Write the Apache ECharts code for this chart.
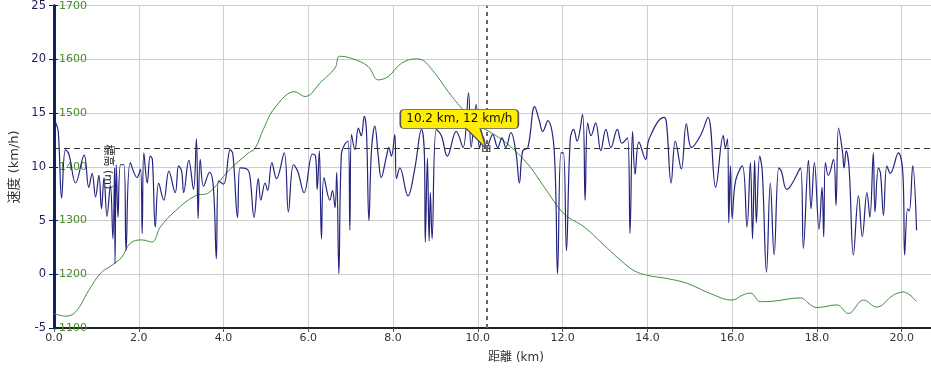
<!DOCTYPE html>
<html>
<head>
<meta charset="utf-8">
<script src="https://cdn.jsdelivr.net/npm/echarts@6/dist/echarts.min.js"></script>
<style>
html,body{margin:0;padding:0;background:#fff;overflow:hidden;width:931px;height:372px;}
#c{width:978px;height:372px;}
</style>
</head>
<body>
<div id="c"></div>
<script>
// ---- data ----
const speedKm = [0.04,0.10,0.18,0.27,0.35,0.51,0.71,0.82,0.90,0.98,
1.06,1.12,1.18,1.25,1.33,1.39,1.43,1.44,1.47,1.51,
1.57,1.65,1.70,1.80,1.96,2.04,2.08,2.12,2.20,2.27,
2.32,2.39,2.47,2.59,2.71,2.86,2.94,3.01,3.06,3.18,
3.29,3.36,3.40,3.45,3.53,3.67,3.76,3.83,3.88,4.00,
4.16,4.22,4.33,4.39,4.55,4.62,4.72,4.82,4.88,4.98,
5.04,5.14,5.25,5.43,5.53,5.65,5.75,5.90,6.10,6.17,
6.21,6.26,6.31,6.37,6.51,6.57,6.63,6.67,6.72,6.78,
6.86,6.94,6.98,7.02,7.10,7.18,7.25,7.32,7.37,7.43,
7.49,7.57,7.65,7.72,7.84,7.90,7.96,8.04,8.08,8.16,
8.35,8.51,8.67,8.74,8.76,8.81,8.85,8.88,8.92,9.02,
9.14,9.28,9.49,9.65,9.78,9.84,9.96,10.04,10.12,10.20,
10.35,10.47,10.57,10.66,10.78,10.90,10.98,11.06,11.18,11.34,
11.45,11.53,11.65,11.80,11.88,11.96,12.02,12.09,12.18,12.26,
12.34,12.47,12.53,12.59,12.67,12.78,12.90,13.02,13.14,13.29,
13.40,13.53,13.59,13.65,13.71,13.80,13.96,14.04,14.39,14.45,
14.56,14.66,14.80,14.92,15.04,15.25,15.43,15.61,15.79,15.84,
15.89,15.92,15.96,16.00,16.08,16.24,16.35,16.43,16.48,16.53,
16.57,16.65,16.71,16.81,16.90,16.99,17.10,17.16,17.29,17.61,
17.68,17.80,17.86,17.94,18.05,18.12,18.16,18.20,18.27,18.39,
18.45,18.51,18.60,18.64,18.69,18.76,18.86,18.98,19.07,19.18,
19.25,19.33,19.37,19.45,19.50,19.57,19.65,19.73,19.92,20.03,
20.07,20.14,20.18,20.26,20.35];
const speedKmh = [14.1,13.3,7.1,11.6,11.2,8.5,11.1,8.1,9.4,7.2,
9.2,6.1,9.0,5.4,8.3,3.3,9.9,1.0,10.2,5.3,
10.2,10.2,2.2,10.4,9.0,9.8,3.8,11.3,8.5,11.0,
10.7,4.4,8.5,6.9,9.6,7.6,10.1,9.6,7.6,10.6,
7.9,12.6,5.2,10.7,8.2,9.5,8.1,1.45,8.7,8.4,
11.6,11.2,5.3,9.9,9.8,9.2,5.3,8.9,6.9,8.5,
7.8,10.4,8.9,11.3,5.8,10.2,9.6,7.6,11.2,11.0,
7.9,11.5,3.3,9.0,6.9,7.8,6.2,9.5,0.06,11.2,
12.1,12.4,4.1,13.0,11.6,13.6,12.9,14.7,13.5,5.0,
11.5,13.8,11.0,9.0,10.9,11.8,11.0,13.0,8.9,9.9,
7.3,9.8,13.5,11.0,3.0,10.8,3.1,7.6,3.3,13.5,
12.9,11.0,13.3,11.8,16.9,11.8,15.8,11.8,12.8,11.7,
13.0,11.8,12.7,11.8,13.2,11.3,8.5,11.5,11.8,15.6,
14.3,13.3,14.3,11.6,0.06,11.3,11.3,2.2,12.6,13.5,
12.4,14.9,6.9,14.1,12.9,14.1,11.5,13.5,11.8,13.5,
12.2,12.7,3.8,13.3,9.3,12.3,10.7,12.6,14.6,14.1,
8.5,12.4,9.8,14.0,11.8,12.9,14.6,8.1,12.9,11.8,
12.6,4.8,10.1,5.2,8.7,10.1,4.4,10.4,3.3,10.6,
4.8,11.0,9.6,0.2,8.5,1.8,9.9,9.6,7.9,9.9,
2.4,10.6,6.1,10.4,4.2,8.1,3.5,10.4,9.2,10.7,
6.4,13.6,11.5,9.9,11.5,9.8,1.8,7.3,3.5,7.6,
5.3,11.3,5.8,9.9,9.4,5.5,10.1,9.4,11.3,9.2,
1.8,6.1,5.9,10.1,4.1];

const elevKm = [0.0,0.27,0.51,0.82,1.1,1.37,1.6,1.8,2.08,2.31,2.51,2.86,3.33,3.65,4.12,4.59,4.74,4.94,5.21,5.68,5.92,6.31,6.63,6.74,7.02,7.41,7.65,7.88,8.2,8.55,8.66,8.98,9.29,9.61,10.0,10.39,10.71,11.18,11.57,12.04,12.51,13.06,13.37,13.68,14.0,14.47,14.94,15.49,16.0,16.24,16.43,16.67,16.98,17.61,17.85,18.0,18.47,18.74,19.1,19.41,19.8,20.04,20.35];
const elevM = [1127,1122,1130,1170,1202,1217,1232,1258,1264,1260,1288,1318,1346,1352,1393,1426,1434,1470,1510,1540,1531,1559,1584,1606,1602,1587,1562,1568,1593,1601,1600,1575,1541,1510,1479,1460,1442,1405,1362,1312,1288,1248,1226,1207,1198,1192,1183,1164,1152,1161,1165,1149,1150,1156,1143,1138,1143,1127,1152,1139,1161,1167,1149];

const avgSpeed = 11.7;           // dashed horizontal reference
const cursorKm = 10.2;           // cursor position
const cursorSpeed = 11.7;        // speed value at cursor

const xTicks = {min: 0, max: 21.8, interval: 2};
const speedTicks = {min: -5, max: 25, interval: 5};
const elevTicks = {min: 1100, max: 1700, interval: 100};

// ---- chart ----
const FONT = '"DejaVu Sans","Noto Sans CJK JP",sans-serif';
const chart = echarts.init(document.getElementById('c'), null, {renderer: 'canvas'});

const speedData = speedKm.map((k, i) => [k, speedKmh[i]]);
const elevData = elevKm.map((k, i) => [k, elevM[i]]);

const calloutPath = 'path://M4,0 L114,0 Q118,0 118,4 L118,15 Q118,19 114,19 L80,19 L86,39 L66,19 L4,19 Q0,19 0,15 L0,4 Q0,0 4,0 Z';

chart.setOption({
  animation: false,
  backgroundColor: '#ffffff',
  grid: {left: 52, right: 0, top: 4, bottom: 44, containLabel: false},
  xAxis: {
    type: 'value', min: xTicks.min, max: xTicks.max, interval: xTicks.interval,
    name: '距離 (km)', nameLocation: 'middle', nameGap: 24, nameMoveOverlap: false,
    nameTextStyle: {fontFamily: FONT, fontSize: 12, color: '#333'},
    axisLine: {show: true, onZero: false, lineStyle: {color: '#222', width: 2}},
    axisTick: {show: true, length: 4, lineStyle: {color: '#555'}},
    axisLabel: {fontFamily: FONT, fontSize: 11, color: '#333', margin: 5,
      showMaxLabel: false, formatter: v => v.toFixed(1)},
    splitLine: {show: true, lineStyle: {color: '#cfcfcf', width: 1}}
  },
  yAxis: [{
    type: 'value', position: 'left', min: speedTicks.min, max: speedTicks.max, interval: speedTicks.interval,
    name: '速度 (km/h)', nameLocation: 'middle', nameGap: 33, nameRotate: 90, nameMoveOverlap: false,
    nameTextStyle: {fontFamily: FONT, fontSize: 13, color: '#333'},
    axisLine: {show: true, onZero: false, lineStyle: {color: '#0d2260', width: 3}},
    axisTick: {show: true, length: 5, lineStyle: {color: '#0d2260'}},
    axisLabel: {fontFamily: FONT, fontSize: 11.5, color: '#1c1c5c', margin: 8},
    splitLine: {show: true, lineStyle: {color: '#cfcfcf', width: 1}}
  }, {
    type: 'value', position: 'left', min: elevTicks.min, max: elevTicks.max, interval: elevTicks.interval,
    name: '標高 (m)', nameLocation: 'middle', nameGap: -59, nameRotate: -90, nameMoveOverlap: false,
    nameTextStyle: {fontFamily: FONT, fontSize: 11, color: '#222'},
    axisLine: {show: false},
    axisTick: {show: true, inside: true, length: 4, lineStyle: {color: '#0d2260'}},
    axisLabel: {inside: true, fontFamily: FONT, fontSize: 11, color: '#4a8a2a', margin: 5,
      formatter: v => String(v)},
    splitLine: {show: false}
  }],
  series: [{
    name: '標高', type: 'line', yAxisIndex: 1, data: elevData,
    showSymbol: false, smooth: 0.4,
    lineStyle: {color: '#3f8f3f', width: 1}, z: 2
  }, {
    name: '速度', type: 'line', yAxisIndex: 0, data: speedData,
    showSymbol: false, smooth: 0.4,
    lineStyle: {color: '#24247f', width: 1.2}, z: 3,
    markLine: {
      silent: true, symbol: ['none', 'none'], label: {show: false},
      data: [
        {yAxis: avgSpeed, lineStyle: {color: '#333', width: 1.2, type: [6, 4]}},
        {xAxis: cursorKm, lineStyle: {color: '#666', width: 2, type: [4, 4]}}
      ]
    },
    markPoint: {
      silent: true,
      data: [
        {coord: [cursorKm, cursorSpeed], symbol: 'rect', symbolSize: [7, 6],
          itemStyle: {color: 'rgba(255,255,255,0)', borderColor: '#333', borderWidth: 1},
          label: {show: false}},
        {coord: [cursorKm, cursorSpeed], symbol: calloutPath, symbolSize: [118, 39],
          symbolOffset: [-27, -19.5],
          itemStyle: {color: '#ffee00', borderColor: '#555', borderWidth: 1},
          label: {show: true, position: 'inside', offset: [0, -10],
            fontFamily: FONT, fontSize: 12, color: '#111',
            formatter: () => cursorKm.toFixed(1) + ' km, ' + Math.round(cursorSpeed) + ' km/h'}}
      ]
    }
  }]
});
</script>
</body>
</html>
